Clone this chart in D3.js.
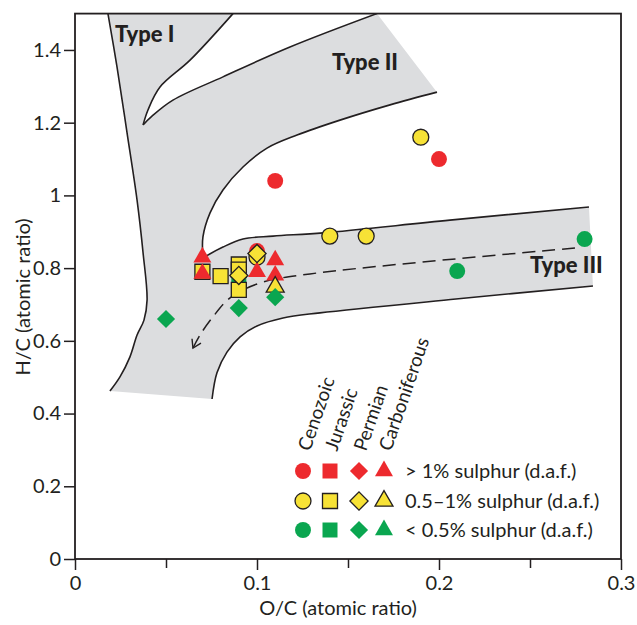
<!DOCTYPE html>
<html>
<head>
<meta charset="utf-8">
<script src="https://cdn.jsdelivr.net/npm/d3@7"></script>
<style>
  body { margin: 0; background: #fff; }
  text { font-family: Lato, "Open Sans", sans-serif; fill: #231f20; }
</style>
</head>
<body>
<svg id="chart" width="637" height="625"></svg>
<script>
// ---- data (O/C, H/C atomic ratios) ----
const ageGroups = ['Cenozoic', 'Jurassic', 'Permian', 'Carboniferous'];
const sulphurClasses = ['> 1% sulphur (d.a.f.)', '0.5\u20131% sulphur (d.a.f.)', '< 0.5% sulphur (d.a.f.)'];
const xTicks = [0, 0.1, 0.2, 0.3];
const xMinorTicks = [0.05, 0.15, 0.25];
const yTicks = [0, 0.2, 0.4, 0.6, 0.8, 1, 1.2, 1.4];

const cenozoicHigh = [[0.11, 1.04], [0.20, 1.10], [0.10, 0.847]];
const cenozoicMid = [[0.19, 1.16], [0.14, 0.888], [0.16, 0.888], [0.10, 0.83]];
const cenozoicLow = [[0.21, 0.792], [0.28, 0.88]];
const jurassicMid = [[0.07, 0.79], [0.08, 0.778], [0.09, 0.81], [0.09, 0.796], [0.09, 0.74]];
const jurassicLow = [[0.09, 0.77]];
const permianMid = [[0.09, 0.78], [0.10, 0.84]];
const permianLow = [[0.05, 0.66], [0.09, 0.69], [0.11, 0.72]];
const carbHigh = [[0.07, 0.83], [0.07, 0.785], [0.10, 0.79], [0.11, 0.822], [0.11, 0.78]];
const carbMid = [[0.11, 0.748]];

// kerogen evolution bands
const bandLeft = [[0.0181, 1.5], [0.0231, 1.353], [0.0286, 1.172], [0.0341, 0.987], [0.0374, 0.842], [0.0396, 0.712], [0.0379, 0.657], [0.0341, 0.616], [0.0302, 0.556], [0.0247, 0.501], [0.0192, 0.462]];
const bandLower = [[0.0753, 0.440], [0.0780, 0.512], [0.0835, 0.569], [0.0907, 0.611], [0.1000, 0.641], [0.1143, 0.663], [0.1346, 0.677], [0.2093, 0.715], [0.2846, 0.751]];
const bandUpper = [[0.2824, 0.968], [0.2060, 0.932], [0.1363, 0.897], [0.1088, 0.888], [0.0923, 0.880], [0.0813, 0.858], [0.0703, 0.828]];
const bandInner = [[0.0703, 0.831], [0.0703, 0.886], [0.0742, 0.952], [0.0813, 1.015], [0.0923, 1.078], [0.1055, 1.130], [0.1220, 1.166], [0.1456, 1.207], [0.1731, 1.249], [0.1989, 1.284]];
const tongueRight = [[0.1659, 1.5], [0.1181, 1.408], [0.0813, 1.326], [0.0538, 1.262], [0.0423, 1.218], [0.0374, 1.194]];
const tongueLeft = [[0.0374, 1.194], [0.0401, 1.235], [0.0467, 1.298], [0.0632, 1.372], [0.0868, 1.5]];
const maturationPath = [[0.2747, 0.855], [0.1291, 0.784], [0.1016, 0.759], [0.0852, 0.718], [0.0758, 0.666], [0.0687, 0.616], [0.0648, 0.580]];

// ---- setup ----
const width = 637, height = 625;
const margin = {top: 13.6, right: 16, bottom: 66, left: 75};
const colors = ['#ed2a2e', '#f7e236', '#0aa650'];
const ink = '#231f20';

const svg = d3.select('#chart');
const x = d3.scaleLinear().domain([0, 0.3]).range([margin.left, width - margin.right]);
const y = d3.scaleLinear().domain([0, 1.5]).range([height - margin.bottom, margin.top]);

svg.append('clipPath').attr('id', 'plotclip').append('rect')
  .attr('x', x(0)).attr('y', y(1.5)).attr('width', x(0.3) - x(0)).attr('height', y(0) - y(1.5));

const curve = d3.line().x(d => x(d[0])).y(d => y(d[1])).curve(d3.curveCatmullRom.alpha(0.5));

// gray field
const outline = [bandLeft, bandLower, bandUpper, bandInner, tongueRight, tongueLeft]
  .map((seg, i) => i ? curve(seg).replace(/^M/, 'L') : curve(seg)).join('') + 'Z';
const field = svg.append('g').attr('clip-path', 'url(#plotclip)');
field.append('path').attr('d', outline).attr('fill', '#dcdddf');
[bandLeft, bandLower, bandUpper, bandInner, tongueRight, tongueLeft].forEach(seg => {
  field.append('path').attr('d', curve(seg)).attr('fill', 'none')
    .attr('stroke', ink).attr('stroke-width', 1.6);
});

// dashed maturation arrow
svg.append('defs').append('marker').attr('id', 'arrow')
  .attr('viewBox', '-10 -6 12 12').attr('markerWidth', 12).attr('markerHeight', 12)
  .attr('markerUnits', 'userSpaceOnUse').attr('refX', 0).attr('refY', 0).attr('orient', 'auto')
  .append('path').attr('d', 'M-8,-5L0,0L-8,5').attr('fill', 'none')
  .attr('stroke', ink).attr('stroke-width', 1.4);
svg.append('path').attr('d', curve(maturationPath)).attr('fill', 'none')
  .attr('stroke', ink).attr('stroke-width', 1.5).attr('stroke-dasharray', '13,7')
  .attr('marker-end', 'url(#arrow)');

// type labels
const typeLabels = [['Type I', 0.022, 1.422], ['Type II', 0.1412, 1.345], ['Type III', 0.25, 0.787]];
svg.selectAll('text.type').data(typeLabels).enter().append('text')
  .attr('class', 'type').attr('x', d => x(d[1])).attr('y', d => y(d[2]))
  .style('font-size', '22px').style('font-weight', 900).text(d => d[0]);

// ---- markers ----
const shapes = {
  circle: d3.symbol().type(d3.symbolCircle).size(200),
  square: d3.symbol().type(d3.symbolSquare).size(225),
  diamond: d3.symbol().type(d3.symbolSquare).size(165),
  triangle: d3.symbol().type(d3.symbolTriangle).size(140)
};
const groupShape = ['circle', 'square', 'diamond', 'triangle'];
const series = [
  {pts: cenozoicHigh, g: 0, s: 0}, {pts: cenozoicMid, g: 0, s: 1}, {pts: cenozoicLow, g: 0, s: 2},
  {pts: jurassicLow, g: 1, s: 2}, {pts: jurassicMid, g: 1, s: 1},
  {pts: carbHigh, g: 3, s: 0}, {pts: permianMid, g: 2, s: 1},
  {pts: carbMid, g: 3, s: 1}, {pts: permianLow, g: 2, s: 2}
];
function drawSymbol(sel, g, s) {
  sel.attr('d', shapes[groupShape[g]]())
    .attr('fill', colors[s])
    .attr('stroke', s === 1 ? ink : 'none')
    .attr('stroke-width', 1.3);
}
series.forEach(sr => {
  svg.append('g').selectAll('path').data(sr.pts).enter().append('path')
    .attr('transform', d => 'translate(' + x(d[0]) + ',' + y(d[1]) + ')' + (sr.g === 2 ? ' rotate(45)' : ''))
    .call(drawSymbol, sr.g, sr.s);
});

// ---- axes ----
svg.append('g').attr('transform', 'translate(0,' + y(0) + ')')
  .call(d3.axisBottom(x).tickValues(xTicks).tickSize(11).tickPadding(6).tickFormat(d3.format('~g')));
svg.append('g').attr('transform', 'translate(0,' + y(0) + ')')
  .call(d3.axisBottom(x).tickValues(xMinorTicks).tickSize(9).tickFormat(''));
svg.append('g').attr('transform', 'translate(' + x(0) + ',0)')
  .call(d3.axisLeft(y).tickValues(yTicks).tickSize(11).tickPadding(3).tickFormat(d3.format('~g')));
svg.selectAll('.domain').remove();
svg.selectAll('.tick line').attr('stroke', ink).attr('stroke-width', 1.5);
svg.selectAll('.tick text').style('font-size', '20px').attr('fill', ink);

svg.append('rect').attr('x', x(0)).attr('y', y(1.5))
  .attr('width', x(0.3) - x(0)).attr('height', y(0) - y(1.5))
  .attr('fill', 'none').attr('stroke', ink).attr('stroke-width', 1.8);

svg.append('text').attr('x', 338).attr('y', 615).attr('text-anchor', 'middle')
  .style('font-size', '20px').text('O/C (atomic ratio)');
svg.append('text').attr('transform', 'translate(30,297) rotate(-90)').attr('text-anchor', 'middle')
  .style('font-size', '20px').text('H/C (atomic ratio)');

// ---- legend ----
const legCols = [303, 330, 359, 384];
const legRows = [471, 501, 530];
const legend = svg.append('g');
legend.selectAll('text.age').data(ageGroups).enter().append('text')
  .attr('class', 'age')
  .attr('transform', (d, i) => 'translate(' + (legCols[i] + 7) + ',452) rotate(-71)')
  .style('font-size', '19px').text(d => d);
sulphurClasses.forEach((label, s) => {
  ageGroups.forEach((a, g) => {
    legend.append('path')
      .attr('transform', 'translate(' + legCols[g] + ',' + legRows[s] + ')' + (g === 2 ? ' rotate(45)' : ''))
      .call(drawSymbol, g, s);
  });
  legend.append('text').attr('x', 405).attr('y', legRows[s] + 7)
    .style('font-size', '20px').text(label);
});
</script>
</body>
</html>
